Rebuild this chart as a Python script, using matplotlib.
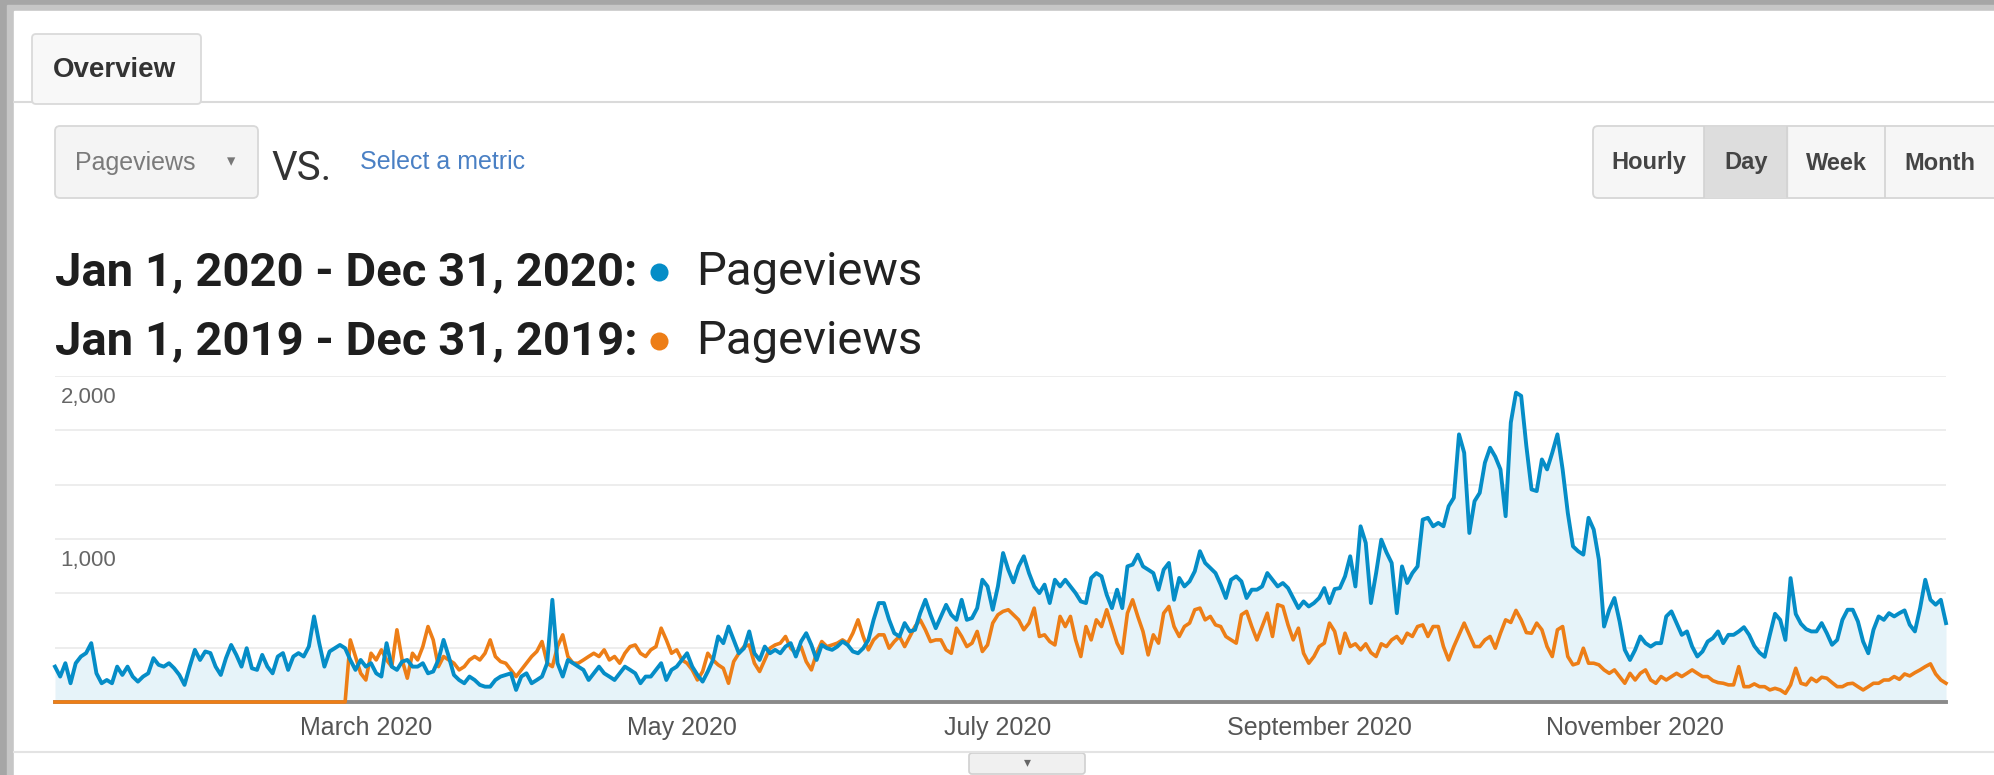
import numpy as np
import pandas as pd
import matplotlib
matplotlib.use("Agg")
import matplotlib.pyplot as plt
from matplotlib.patches import Rectangle, FancyBboxPatch
from matplotlib.lines import Line2D

W, H = 1994, 775

# daily pageviews, Jan 1 - Dec 31 (2020 calendar, 366 days)
views_2020 = [
    217, 156, 238, 115, 238, 279, 300,
    361, 176, 115, 135, 115, 217, 166,
    217, 156, 125, 156, 176, 269, 228,
    217, 238, 207, 166, 105, 217, 320,
    258, 310, 300, 217, 166, 269, 350,
    289, 217, 330, 207, 197, 289, 217,
    176, 279, 300, 197, 279, 300, 279,
    340, 525, 361, 217, 310, 330, 350,
    330, 258, 197, 258, 217,
    238, 176, 156, 361, 217, 197, 248,
    258, 217, 217, 238, 176, 187, 258,
    381, 279, 166, 135, 115, 156, 135,
    105, 94, 94, 135, 156, 166, 176,
    74, 156, 176, 115, 135, 156, 238,
    627, 238, 156, 258, 238, 217, 197,
    135, 176, 217, 176, 156, 135, 176,
    217, 197, 176, 115, 156, 156, 197,
    238, 135, 197, 217, 258, 299,
    217, 166, 125, 187, 258, 402, 361,
    463, 381, 299, 330, 433, 299, 258,
    340, 299, 320, 299, 340, 361, 279,
    371, 422, 350, 258, 350, 330, 320,
    340, 371, 350, 310, 299, 330, 381,
    504, 607, 607, 504, 422, 402, 484,
    433, 443, 545, 627, 535, 453, 525,
    596, 535, 504, 627, 504, 515, 576,
    750, 709, 566, 709, 914, 812,
    734, 832, 894, 791, 709, 668, 720,
    607, 750, 709, 750, 709, 668, 617,
    607, 761, 791, 771, 658, 576, 689,
    576, 832, 843, 904, 832, 812, 791,
    689, 812, 853, 627, 761, 709, 740,
    802, 925, 853, 822, 791, 720, 638,
    750, 771, 740, 638, 689, 689, 709,
    791, 750, 709, 730, 699, 638, 576,
    617, 586, 607, 638, 699,
    607, 693, 699, 771, 894, 709, 1078,
    976, 607, 791, 996, 918, 853, 545,
    832, 730, 791, 832, 1119, 1130, 1078,
    1099, 1078, 1201, 1253, 1642, 1529, 1037,
    1232, 1283, 1468, 1560, 1505, 1427, 1140,
    1714, 1898, 1878, 1570, 1304, 1294, 1488,
    1427, 1529, 1642, 1427, 1160, 955, 925,
    904, 1130, 1058, 873, 463, 566, 638,
    494, 320, 258, 320, 402, 361,
    340, 361, 361, 525, 556, 484, 412,
    433, 340, 279, 310, 371, 392, 433,
    361, 412, 412, 433, 459, 412, 344,
    303, 277, 412, 541, 504, 381, 760,
    540, 480, 447, 433, 433, 484, 422,
    351, 381, 504, 566, 566, 494, 371,
    299, 443, 525, 504, 545, 525, 545,
    562, 474, 433, 576, 750, 627, 597,
    627, 484,
]

views_2019 = [
    0, 0, 0, 0, 0, 0, 0,
    0, 0, 0, 0, 0, 0, 0,
    0, 0, 0, 0, 0, 0, 0,
    0, 0, 0, 0, 0, 0, 0,
    0, 0, 0, 0, 0, 0, 0,
    0, 0, 0, 0, 0, 0, 0,
    0, 0, 0, 0, 0, 0, 0,
    0, 0, 0, 0, 0, 0, 0,
    0, 381, 279, 176, 135,
    299, 258, 320, 258, 217, 443, 258,
    146, 299, 258, 340, 463, 381, 217,
    279, 258, 238, 197, 217, 258, 279,
    258, 299, 381, 279, 248, 238, 197,
    156, 197, 238, 279, 310, 371, 238,
    217, 340, 412, 279, 238, 238, 258,
    279, 299, 279, 320, 258, 279, 238,
    299, 340, 350, 299, 279, 320, 340,
    453, 381, 299, 320, 258, 238,
    197, 135, 187, 299, 258, 228, 207,
    115, 248, 299, 340, 350, 238, 187,
    258, 330, 350, 361, 402, 330, 299,
    340, 248, 197, 299, 371, 340, 350,
    361, 381, 361, 422, 504, 402, 320,
    381, 412, 412, 330, 371, 402, 340,
    402, 463, 504, 443, 371, 381, 381,
    320, 299, 453, 402, 340, 361, 433,
    310, 350, 484, 535, 556, 566,
    535, 504, 443, 484, 576, 402, 412,
    371, 350, 525, 463, 525, 381, 279,
    463, 381, 504, 463, 566, 463, 361,
    299, 545, 627, 525, 433, 289, 412,
    361, 545, 586, 463, 402, 463, 484,
    566, 576, 504, 525, 473, 463, 402,
    381, 361, 535, 556, 463, 381, 463,
    545, 402, 597, 586, 473, 381, 453,
    299, 238, 279, 340, 361,
    484, 433, 299, 422, 340, 357, 320,
    357, 303, 279, 357, 340, 381, 402,
    361, 422, 402, 463, 473, 402, 463,
    463, 340, 258, 340, 412, 484, 412,
    340, 340, 381, 402, 330, 422, 504,
    488, 562, 504, 426, 422, 484, 443,
    340, 279, 443, 463, 279, 228, 238,
    330, 238, 238, 228, 197, 176, 197,
    156, 115, 176, 135, 176, 197,
    135, 115, 156, 135, 156, 176, 156,
    176, 197, 176, 156, 156, 131, 119,
    115, 105, 105, 217, 94, 94, 111,
    94, 94, 74, 84, 74, 53, 105,
    207, 115, 105, 146, 125, 152, 146,
    119, 94, 94, 111, 115, 94, 74,
    94, 115, 115, 135, 135, 156, 139,
    172, 160, 180, 197, 217, 234, 172,
    135, 115,
]

month_ticks = ["2020-03-01", "2020-05-01", "2020-07-01", "2020-09-01", "2020-11-01"]
month_labels = ["March 2020", "May 2020", "July 2020", "September 2020", "November 2020"]
y_label_values = [2000, 1000]
y_label_texts = ["2,000", "1,000"]
range_labels = ["Jan 1, 2020 - Dec 31, 2020:", "Jan 1, 2019 - Dec 31, 2019:"]
interval_buttons = ["Hourly", "Day", "Week", "Month"]

BLUE = "#058dc7"
ORANGE = "#ed7e17"
UI = "Liberation Sans"

dates = pd.date_range("2020-01-01", periods=len(views_2020), freq="D")

fig = plt.figure(figsize=(W / 100, H / 100), dpi=100)
fig.patch.set_facecolor("#a6a6a6")

# overlay in pixel coordinates for the page chrome
ui = fig.add_axes([0, 0, 1, 1], zorder=0)
ui.set_xlim(0, W)
ui.set_ylim(H, 0)
ui.axis("off")

ui.add_patch(Rectangle((7, 5), W, H, color="#c6c6c6"))
ui.add_patch(Rectangle((14, 11), W, H, color="white"))

# tab
ui.add_patch(FancyBboxPatch((32, 34), 169, 70, boxstyle="round,pad=0,rounding_size=4",
                            fc="#f8f8f8", ec="#dadada", lw=1.3))
ui.plot([14, 32], [102, 102], color="#dadada", lw=1.5)
ui.plot([201, W], [102, 102], color="#dadada", lw=1.5)
ui.text(53, 70, "Overview", fontsize=20, fontweight="bold", family=UI,
        color="#333333", va="center")

# metric selector
ui.add_patch(FancyBboxPatch((55, 126), 203, 72, boxstyle="round,pad=0,rounding_size=5",
                            fc="#f4f4f4", ec="#d8d8d8", lw=1.3))
ui.text(75, 163, "Pageviews", fontsize=18, family=UI, color="#7a7a7a", va="center")
ui.text(231, 161, "\u25be", fontsize=12, color="#777777", va="center", ha="center")
ui.text(271, 168, "VS.", fontsize=29, family="Roboto", color="#333333", va="center")
ui.text(360, 162, "Select a metric", fontsize=18, family=UI, color="#4a80c4", va="center")

# interval buttons
ui.add_patch(FancyBboxPatch((1593, 126), 430, 72, boxstyle="round,pad=0,rounding_size=5",
                            fc="#f6f6f6", ec="#d6d6d6", lw=1.3))
ui.add_patch(Rectangle((1704, 127), 83, 70, color="#dddddd"))
for xd in [1704, 1787, 1885]:
    ui.plot([xd, xd], [127, 197], color="#d3d3d3", lw=1.2)
for label, xc in zip(interval_buttons, [1649, 1746, 1836, 1940]):
    ui.text(xc, 163, label, fontsize=17, fontweight="bold", family=UI,
            color="#444444", va="center", ha="center")

# date range legend
for label, color, base in zip(range_labels, [BLUE, ORANGE], [285, 354]):
    ui.text(55, base, label, fontsize=34, fontweight="bold", family="Roboto",
            color="#1e1e1e", va="baseline")
    ui.add_line(Line2D([659], [base - 13], marker="o", ms=13, color=color, mec="none"))
    ui.text(696, base, "Pageviews", fontsize=34, family="Roboto", color="#222222",
            va="baseline")

# bottom strip with collapse button
ui.plot([14, W], [752, 752], color="#e3e3e3", lw=1.5)
ui.add_patch(FancyBboxPatch((969, 753), 116, 21, boxstyle="round,pad=0,rounding_size=3",
                            fc="#f0f0f0", ec="#d0d0d0", lw=1.2))
ui.text(1027, 762, "\u25be", fontsize=10, color="#666666", va="center", ha="center")

# the chart
ax = fig.add_axes([55 / W, 1 - 702 / H, 1891 / W, (702 - 376) / H], zorder=1)
ax.set_facecolor("none")
ax.set_xlim(dates[0], dates[-1])
ax.set_ylim(0, 2000)
for s in ax.spines.values():
    s.set_visible(False)
ax.set_yticks([])

for yv in np.linspace(0, 2000, 7)[1:]:
    ax.axhline(yv, color="#ececec", lw=1.3, zorder=0)

ax.fill_between(dates, views_2020, color="#e6f3f9", lw=0, zorder=1)
ax.axhline(0, color="#8a8a8a", lw=2.8, zorder=2, clip_on=False)
ax.plot(dates, views_2019, color=ORANGE, lw=2.6, zorder=3, clip_on=False)
ax.plot(dates, views_2020, color=BLUE, lw=2.8, zorder=4, clip_on=False)

for yv, txt in zip(y_label_values, y_label_texts):
    ax.annotate(txt, xy=(0, yv), xycoords=("axes fraction", "data"), xytext=(4, -8),
                textcoords="offset points", va="top", ha="left", fontsize=16,
                family=UI, color="#666666")

ax.set_xticks(pd.to_datetime(month_ticks))
ax.set_xticklabels(month_labels, fontsize=18, family=UI, color="#555555")
ax.tick_params(axis="x", length=0, pad=10)

fig.savefig("out.png", dpi=100, facecolor=fig.get_facecolor())
